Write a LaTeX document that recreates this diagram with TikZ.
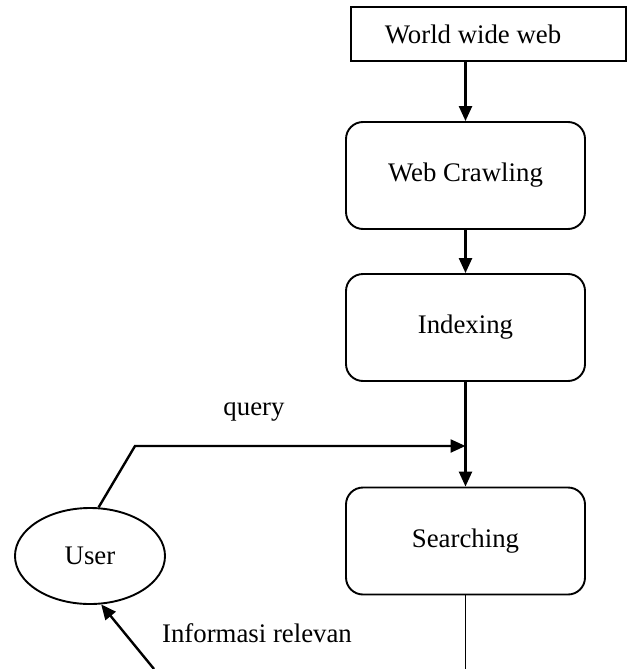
\documentclass[tikz,border=0pt]{standalone}
\usepackage{fontspec}
\setmainfont{Liberation Serif}
\usetikzlibrary{arrows.meta,shapes.geometric,calc}
\begin{document}
\begin{tikzpicture}[x=1pt,y=-1pt,
  every node/.style={font=\fontsize{26.8}{31}\selectfont},
  procbox/.style={draw,line width=1.9pt,rounded corners=17pt,minimum width=239pt,minimum height=107pt,inner sep=0pt},
  arr/.style={line width=2.4pt,-{Triangle[length=15pt,width=13pt]}},
  plain/.style={line width=1.9pt}]
\useasboundingbox (0,0) rectangle (627,669);
\node[draw,line width=1.9pt,minimum width=275pt,minimum height=54pt,inner sep=0pt] (www) at (488.5,34) {World wide web\kern31pt};
\node[procbox] (crawl) at (465.5,175.5) {Web Crawling};
\node[procbox] (index) at (465.5,327.5) {Indexing};
\node[procbox] (search) at (465.5,541) {Searching};
\node[draw,ellipse,line width=1.9pt,minimum width=150pt,minimum height=96pt,inner sep=0pt] (user) at (90,556) {User};
\coordinate (q1) at (135,446);
\coordinate (ue) at (154,669);
\draw[arr] (crawl.north |- www.south) -- (crawl.north);
\draw[arr] (crawl.south) -- (index.north);
\draw[arr] (index.south) -- (search.north);
\draw[arr,line join=miter] (user.80) -- (q1) -- (q1 -| search.north);
\draw[plain] (search.south) -- (search.south |- ue);
\draw[arr] (ue) -- (user.-77);
\node (qlab) at (254,412) {query};
\node (ilab) at (257,633) {Informasi relevan};
\end{tikzpicture}
\end{document}
